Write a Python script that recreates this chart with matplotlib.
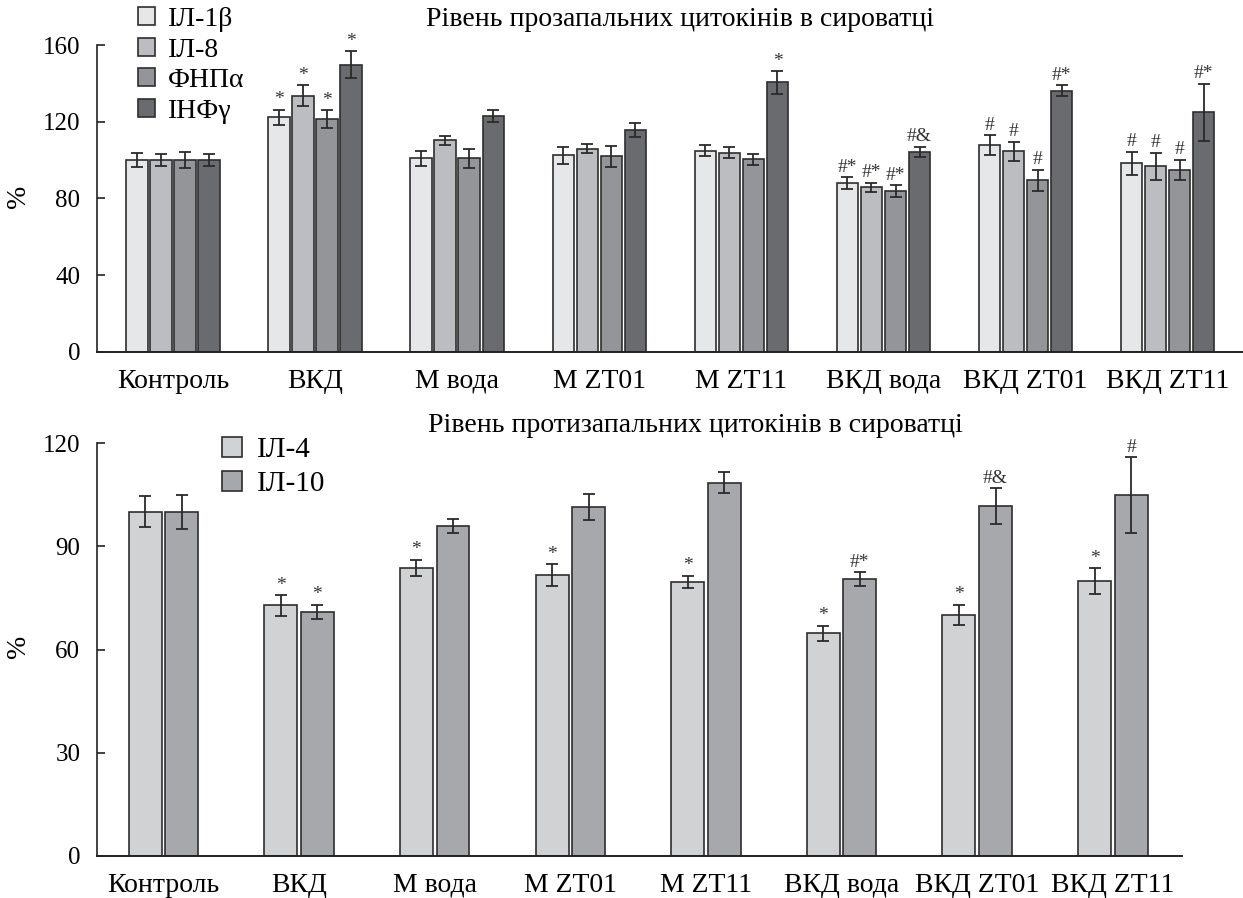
import numpy as np
import matplotlib
matplotlib.use('Agg')
import matplotlib.pyplot as plt
from matplotlib.patches import Patch

plt.rcParams['font.family'] = ['Liberation Serif', 'DejaVu Serif']

groups = ['Контроль', 'ВКД', 'М вода', 'М ZT01', 'М ZT11', 'ВКД вода', 'ВКД ZT01', 'ВКД ZT11']

# --- pro-inflammatory cytokines (top panel) ---
pro_names = ['ІЛ-1β', 'ІЛ-8', 'ФНПα', 'ІНФγ']
il1b = [100, 122.3, 101.0, 102.5, 104.9, 88.0, 107.9, 98.3]
il1b_err = [3.5, 4.0, 4.0, 4.5, 3.0, 3.0, 5.0, 6.0]
il8 = [100, 133.6, 110.3, 106.0, 103.9, 85.8, 104.7, 96.8]
il8_err = [3.0, 5.5, 2.3, 2.5, 3.0, 2.4, 4.9, 7.0]
tnf = [100, 121.4, 100.9, 102.0, 100.4, 83.9, 89.5, 94.8]
tnf_err = [4.0, 4.5, 5.0, 5.5, 2.8, 3.0, 5.5, 5.4]
ifn = [100, 149.7, 123.0, 115.7, 140.5, 104.2, 136.2, 124.9]
ifn_err = [3.0, 7.0, 3.0, 3.6, 5.8, 2.8, 3.0, 15.0]
il1b_marks = ['', '*', '', '', '', '#*', '#', '#']
il8_marks = ['', '*', '', '', '', '#*', '#', '#']
tnf_marks = ['', '*', '', '', '', '#*', '#', '#']
ifn_marks = ['', '*', '', '', '*', '#&', '#*', '#*']

# --- anti-inflammatory cytokines (bottom panel) ---
anti_names = ['ІЛ-4', 'ІЛ-10']
il4 = [100, 72.8, 83.8, 81.6, 79.6, 64.7, 70.0, 79.9]
il4_err = [4.5, 3.0, 2.3, 3.2, 1.8, 2.2, 3.0, 3.8]
il10 = [100, 71.0, 95.8, 101.4, 108.5, 80.4, 101.6, 104.8]
il10_err = [5.0, 2.0, 2.0, 3.7, 3.1, 2.0, 5.2, 11.0]
il4_marks = ['', '*', '*', '*', '*', '*', '*', '*']
il10_marks = ['', '*', '', '', '', '#*', '#&', '#']

pro_title = 'Рівень прозапальних цитокінів в сироватці'
anti_title = 'Рівень протизапальних цитокінів в сироватці'

pro_colors = ['#e6e7e8', '#bcbdc0', '#939598', '#6a6b6f']
anti_colors = ['#d1d2d4', '#a7a8ab']
edge = '#2e2e2e'

W, H = 1243, 898
fig = plt.figure(figsize=(W / 100, H / 100), dpi=100)


def style_axes(ax, ymax, yticks):
    ax.set_ylim(0, ymax)
    ax.set_yticks(yticks)
    ax.spines['top'].set_visible(False)
    ax.spines['right'].set_visible(False)
    ax.spines['left'].set_linewidth(1.2)
    ax.spines['bottom'].set_linewidth(1.4)
    ax.spines['left'].set_color('#222222')
    ax.spines['bottom'].set_color('#222222')
    ax.tick_params(axis='y', direction='in', length=6, width=1.2, pad=12,
                   labelsize=18, color='#222222')
    ax.tick_params(axis='x', length=0, pad=12, labelsize=20)
    ax.set_xticks(np.arange(len(groups)))
    ax.set_xticklabels(groups)


def draw_bars(ax, series, errs, marks, colors, slot, width):
    x = np.arange(len(groups))
    n = len(series)
    for i, (vals, err, mk, col) in enumerate(zip(series, errs, marks, colors)):
        xs = x + (i - (n - 1) / 2) * slot
        ax.bar(xs, vals, width=width, color=col, edgecolor=edge, linewidth=1.2, zorder=2)
        ax.errorbar(xs, vals, yerr=err, fmt='none', ecolor='#2a2a2a',
                    elinewidth=1.3, capsize=4.5, capthick=1.3, zorder=3)
        for xi, v, e, m in zip(xs, vals, err, mk):
            if m:
                ax.annotate(m, (xi, v + e), xytext=(0, 1), textcoords='offset points',
                            ha='center', va='bottom', fontsize=14, color='#333333')


# top panel
ax1 = fig.add_axes([97 / W, 1 - 352 / H, (1243 - 97) / W, (352 - 45) / H])
draw_bars(ax1, [il1b, il8, tnf, ifn], [il1b_err, il8_err, tnf_err, ifn_err],
          [il1b_marks, il8_marks, tnf_marks, ifn_marks], pro_colors, 0.169, 0.151)
style_axes(ax1, 160, [0, 40, 80, 120, 160])
ax1.set_xlim(-0.535, 7.53)
h1 = [Patch(facecolor=c, edgecolor=edge, linewidth=1.2) for c in pro_colors]
ax1.legend(h1, pro_names, loc='upper left', bbox_to_anchor=(138 / W, 1 - 7 / H),
           bbox_transform=fig.transFigure, frameon=False, fontsize=20,
           handlelength=0.62, handleheight=0.62, handletextpad=0.45,
           labelspacing=0.2, borderaxespad=0, borderpad=0)

# bottom panel
ax2 = fig.add_axes([97 / W, 1 - 856 / H, (1182 - 97) / W, (856 - 443) / H])
draw_bars(ax2, [il4, il10], [il4_err, il10_err], [il4_marks, il10_marks],
          anti_colors, 0.27, 0.243)
style_axes(ax2, 120, [0, 30, 60, 90, 120])
ax2.set_xlim(-0.49, 7.51)
h2 = [Patch(facecolor=c, edgecolor=edge, linewidth=1.2) for c in anti_colors]
ax2.legend(h2, anti_names, loc='upper left', bbox_to_anchor=(222 / W, 1 - 437 / H),
           bbox_transform=fig.transFigure, frameon=False, fontsize=21,
           handlelength=0.7, handleheight=0.7, handletextpad=0.5,
           labelspacing=0.25, borderaxespad=0, borderpad=0)

fig.text(680 / W, 1 - 19 / H, pro_title, ha='center', va='center', fontsize=20)
fig.text(695 / W, 1 - 425 / H, anti_title, ha='center', va='center', fontsize=20)
fig.text(18 / W, 1 - 196 / H, '%', ha='center', va='center', rotation=90, fontsize=20)
fig.text(18 / W, 1 - 646 / H, '%', ha='center', va='center', rotation=90, fontsize=20)

fig.savefig('out.png', dpi=100)
